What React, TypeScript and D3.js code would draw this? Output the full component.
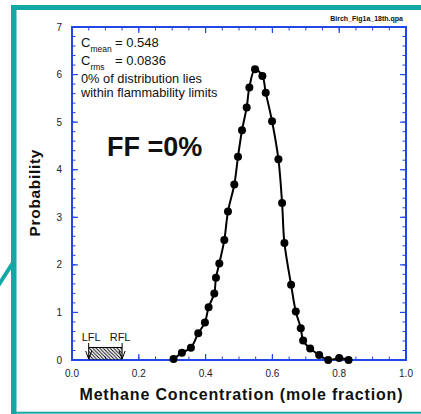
import React from "react";
import * as d3 from "d3";

// Measured methane concentration distribution (mole fraction vs probability density)
const concentration = [
  0.304, 0.329, 0.356, 0.378, 0.398, 0.409, 0.426, 0.431, 0.441, 0.456, 0.467,
  0.486, 0.497, 0.509, 0.523, 0.531, 0.548, 0.570, 0.580, 0.599, 0.618, 0.629,
  0.636, 0.656, 0.670, 0.685, 0.692, 0.713, 0.740, 0.767, 0.800, 0.828,
];
const probability = [
  0.02, 0.15, 0.26, 0.56, 0.79, 1.11, 1.40, 1.73, 2.03, 2.52, 3.12,
  3.69, 4.27, 4.83, 5.31, 5.73, 6.11, 5.97, 5.62, 5.02, 4.22, 3.30,
  2.46, 1.58, 1.02, 0.67, 0.41, 0.24, 0.105, 0.0, 0.04, 0.0,
];

const xTickValues = [0, 0.2, 0.4, 0.6, 0.8, 1.0];
const xTickLabels = ["0.0", "0.2", "0.4", "0.6", "0.8", "1.0"];
const yTickValues = [0, 1, 2, 3, 4, 5, 6, 7];
const yTickLabels = ["0", "1", "2", "3", "4", "5", "6", "7"];

// Lower / upper flammability limits
const flammabilityLimits = [0.05, 0.15];
const limitLabels = ["LFL", "RFL"];

const statValues = ["= 0.548", "= 0.0836"];
const statSubscripts = ["mean", "rms"];
const noteLines = ["0% of distribution lies", "within flammability limits"];

const W = 421;
const H = 414;
const FONT = "'Liberation Sans', Arial, Helvetica, sans-serif";
const AXIS = "#2346e6";
const TEAL = "#13a7a5";

export default function App() {
  const x = d3.scaleLinear().domain([0, 1]).range([72, 406]);
  const y = d3.scaleLinear().domain([0, 7]).range([360, 27]);
  const [x0, x1] = x.range();
  const [y0, y1] = y.range();

  const xMinor = d3.range(0, 1.0001, 0.05);
  const yMinor = d3.range(0, 7.0001, 0.2);

  const pts = concentration.map((c, i) => [c, probability[i]] as [number, number]);
  const line = d3
    .line<[number, number]>()
    .x((d) => x(d[0]))
    .y((d) => y(d[1]))
    .curve(d3.curveCatmullRom.alpha(0.5));

  const lfl = x(flammabilityLimits[0]);
  const rfl = x(flammabilityLimits[1]);
  const boxTop = 347.5;

  return (
    <svg
      width={W}
      height={H}
      style={{ position: "absolute", left: 0, top: 0, background: "#fff" }}
      fontFamily={FONT}
    >
      <defs>
        <pattern id="hatch" patternUnits="userSpaceOnUse" width={3.5} height={3.5}>
          <path d="M-1,-1 L4.5,4.5 M-1,2.5 L1,4.5 M2.5,-1 L4.5,1" stroke="#000" strokeWidth={0.9} />
        </pattern>
        <clipPath id="plotClip">
          <rect x={x0} y={y1 - 5} width={x1 - x0} height={y0 - y1 + 10} />
        </clipPath>
      </defs>

      {/* frame decoration */}
      <rect x={11} y={5} width={W - 11} height={5} fill={TEAL} />
      <rect x={11} y={5} width={5.5} height={409} fill={TEAL} />
      <rect x={11} y={411.7} width={W - 11} height={2} fill={TEAL} />
      <line x1={-2} y1={286} x2={14} y2={261} stroke={TEAL} strokeWidth={4} />

      <text x={403} y={21} fontSize={7} fontWeight="bold" textAnchor="end" fill="#111">
        Birch_Fig1a_18th.qpa
      </text>

      {/* minor ticks */}
      {xMinor.map((v, i) => (
        <g key={"xm" + i} stroke={AXIS} strokeWidth={1}>
          <line x1={x(v)} x2={x(v)} y1={y0} y2={y0 - 3.5} />
          <line x1={x(v)} x2={x(v)} y1={y1} y2={y1 + 3.5} />
        </g>
      ))}
      {yMinor.map((v, i) => (
        <g key={"ym" + i} stroke={AXIS} strokeWidth={1}>
          <line x1={x0} x2={x0 + 3.5} y1={y(v)} y2={y(v)} />
          <line x1={x1} x2={x1 - 3.5} y1={y(v)} y2={y(v)} />
        </g>
      ))}
      {/* major ticks and labels */}
      {xTickValues.map((v, i) => (
        <g key={"xt" + i}>
          <line x1={x(v)} x2={x(v)} y1={y0} y2={y0 - 6} stroke={AXIS} strokeWidth={1.2} />
          <line x1={x(v)} x2={x(v)} y1={y1} y2={y1 + 6} stroke={AXIS} strokeWidth={1.2} />
          <text x={x(v)} y={376.5} fontSize={10} textAnchor="middle" fill="#222">
            {xTickLabels[i]}
          </text>
        </g>
      ))}
      {yTickValues.map((v, i) => (
        <g key={"yt" + i}>
          <line x1={x0} x2={x0 + 6} y1={y(v)} y2={y(v)} stroke={AXIS} strokeWidth={1.2} />
          <line x1={x1} x2={x1 - 6} y1={y(v)} y2={y(v)} stroke={AXIS} strokeWidth={1.2} />
          <text x={62} y={y(v) + 3.6} fontSize={10} textAnchor="end" fill="#222">
            {yTickLabels[i]}
          </text>
        </g>
      ))}

      {/* plot frame */}
      <rect x={x0} y={y1} width={x1 - x0} height={y0 - y1} fill="none" stroke={AXIS} strokeWidth={2} />

      {/* axis titles */}
      <text
        x={241}
        y={400}
        fontSize={16}
        fontWeight="bold"
        textAnchor="middle"
        textLength={323}
        lengthAdjust="spacing"
        fill="#111"
      >
        Methane Concentration (mole fraction)
      </text>
      <text
        transform="translate(40,193) rotate(-90)"
        fontSize={15.5}
        fontWeight="bold"
        textAnchor="middle"
        textLength={87}
        lengthAdjust="spacing"
        fill="#111"
      >
        Probability
      </text>

      {/* statistics */}
      {statSubscripts.map((s, i) => (
        <g key={"st" + i} fontSize={13} fill="#111">
          <text x={81} y={47 + i * 18}>
            C<tspan fontSize={8.5} dy={5}>{s}</tspan>
          </text>
          <text x={115} y={47 + i * 18}>{statValues[i]}</text>
        </g>
      ))}
      {noteLines.map((t, i) => (
        <text key={"nl" + i} x={81} y={83 + i * 13.5} fontSize={12.8} fill="#111">
          {t}
        </text>
      ))}
      <text x={107} y={156} fontSize={27} fontWeight="bold" fill="#111">
        FF =0%
      </text>

      {/* flammability range */}
      <rect x={lfl} y={boxTop} width={rfl - lfl} height={y0 - boxTop} fill="url(#hatch)" />
      <line x1={lfl} x2={rfl} y1={boxTop} y2={boxTop} stroke="#000" strokeWidth={1} />
      {[lfl, rfl].map((px, i) => (
        <g key={"ar" + i} stroke="#000" strokeWidth={1} fill="none">
          <line x1={px} x2={px} y1={343} y2={359} />
          <path d={`M${px - 3},${351} L${px},${359} L${px + 3},${351}`} />
        </g>
      ))}
      {limitLabels.map((t, i) => (
        <text
          key={"ll" + i}
          x={i === 0 ? lfl + 2.5 : rfl - 2}
          y={340.5}
          fontSize={11}
          textAnchor="middle"
          fill="#111"
        >
          {t}
        </text>
      ))}

      {/* distribution curve */}
      <g clipPath="url(#plotClip)">
        <path d={line(pts) || ""} fill="none" stroke="#000" strokeWidth={2} />
        {pts.map((d, i) => (
          <circle key={"p" + i} cx={x(d[0])} cy={y(d[1])} r={4} fill="#000" />
        ))}
      </g>
    </svg>
  );
}
